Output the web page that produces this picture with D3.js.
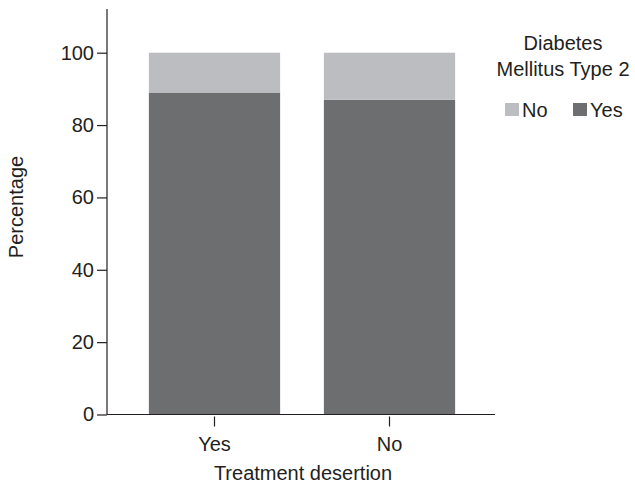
<!DOCTYPE html>
<html>
<head>
<meta charset="utf-8">
<script src="https://cdn.jsdelivr.net/npm/d3@7"></script>
<style>
  body { margin: 0; background: #fff; }
  text { font-family: "Liberation Sans", Arial, sans-serif; fill: #231f20; }
</style>
</head>
<body>
<div id="chart"></div>
<script>
var categories = ["Yes", "No"];
var diabetesYes = [89, 87];
var diabetesNo = [11, 13];
var yTicks = [0, 20, 40, 60, 80, 100];
var legendKeys = ["No", "Yes"];

var svgWidth = 635;
var svgHeight = 487;

var colors = { Yes: "#6d6e70", No: "#bcbdc0" };

var svg = d3.select("#chart")
  .append("svg")
  .attr("width", svgWidth)
  .attr("height", svgHeight);

var axisLeftX = 107;
var axisRightX = 495;
var yTop = 9;

var x = d3.scaleBand()
  .domain(categories)
  .range([127, 477])
  .paddingInner(0.25)
  .paddingOuter(0.125);

var y = d3.scaleLinear()
  .domain([0, 100])
  .range([414.5, 52.7]);

// stacked bars
var rows = categories.map(function(c, i) {
  return { cat: c, Yes: diabetesYes[i], No: diabetesNo[i] };
});
var stack = d3.stack().keys(["Yes", "No"])(rows);

svg.selectAll("g.layer")
  .data(stack)
  .enter()
  .append("g")
  .attr("class", "layer")
  .attr("fill", d => colors[d.key])
  .selectAll("rect")
  .data(d => d)
  .enter()
  .append("rect")
  .attr("x", d => x(d.data.cat))
  .attr("width", x.bandwidth())
  .attr("y", d => y(d[1]))
  .attr("height", d => y(d[0]) - y(d[1]));

// y axis
var leftAxis = d3.axisLeft(y).tickValues(yTicks).tickSize(10).tickPadding(3);
var gy = svg.append("g")
  .attr("transform", `translate(${axisLeftX}, 0)`)
  .call(leftAxis);
gy.select(".domain").remove();
gy.selectAll("line").attr("stroke", "#231f20").attr("stroke-width", 1.2);
gy.selectAll("text").attr("font-size", "20px").attr("fill", "#231f20");
gy.append("line")
  .attr("x1", 0).attr("x2", 0)
  .attr("y1", yTop).attr("y2", y(0))
  .attr("stroke", "#231f20").attr("stroke-width", 1.2);

// x axis
var bottomAxis = d3.axisBottom(x).tickSize(10).tickPadding(10);
var gx = svg.append("g")
  .attr("transform", `translate(0, ${y(0) + 2})`)
  .call(bottomAxis);
gx.select(".domain").remove();
gx.selectAll("line").attr("stroke", "#231f20").attr("stroke-width", 1.2);
gx.selectAll("text").attr("font-size", "20px").attr("fill", "#231f20");
svg.append("line")
  .attr("x1", axisLeftX).attr("x2", axisRightX)
  .attr("y1", y(0)).attr("y2", y(0))
  .attr("stroke", "#231f20").attr("stroke-width", 1.2);

// axis titles
svg.append("text")
  .attr("transform", "rotate(-90)")
  .attr("x", -207)
  .attr("y", 23)
  .attr("text-anchor", "middle")
  .attr("font-size", "20px")
  .text("Percentage");

svg.append("text")
  .attr("x", 303)
  .attr("y", 480)
  .attr("text-anchor", "middle")
  .attr("font-size", "20px")
  .text("Treatment desertion");

// legend
svg.append("text")
  .attr("x", 563)
  .attr("y", 50)
  .attr("text-anchor", "middle")
  .attr("font-size", "20px")
  .text("Diabetes");
svg.append("text")
  .attr("x", 563)
  .attr("y", 76)
  .attr("text-anchor", "middle")
  .attr("font-size", "20px")
  .text("Mellitus Type 2");

var legend = svg.selectAll("g.legend")
  .data(legendKeys)
  .enter()
  .append("g")
  .attr("class", "legend")
  .attr("transform", (d, i) => `translate(${505 + i * 68}, 103)`);
legend.append("rect")
  .attr("width", 14)
  .attr("height", 13)
  .attr("fill", d => colors[d]);
legend.append("text")
  .attr("x", 17)
  .attr("y", 14)
  .attr("font-size", "20px")
  .text(d => d);
</script>
</body>
</html>
